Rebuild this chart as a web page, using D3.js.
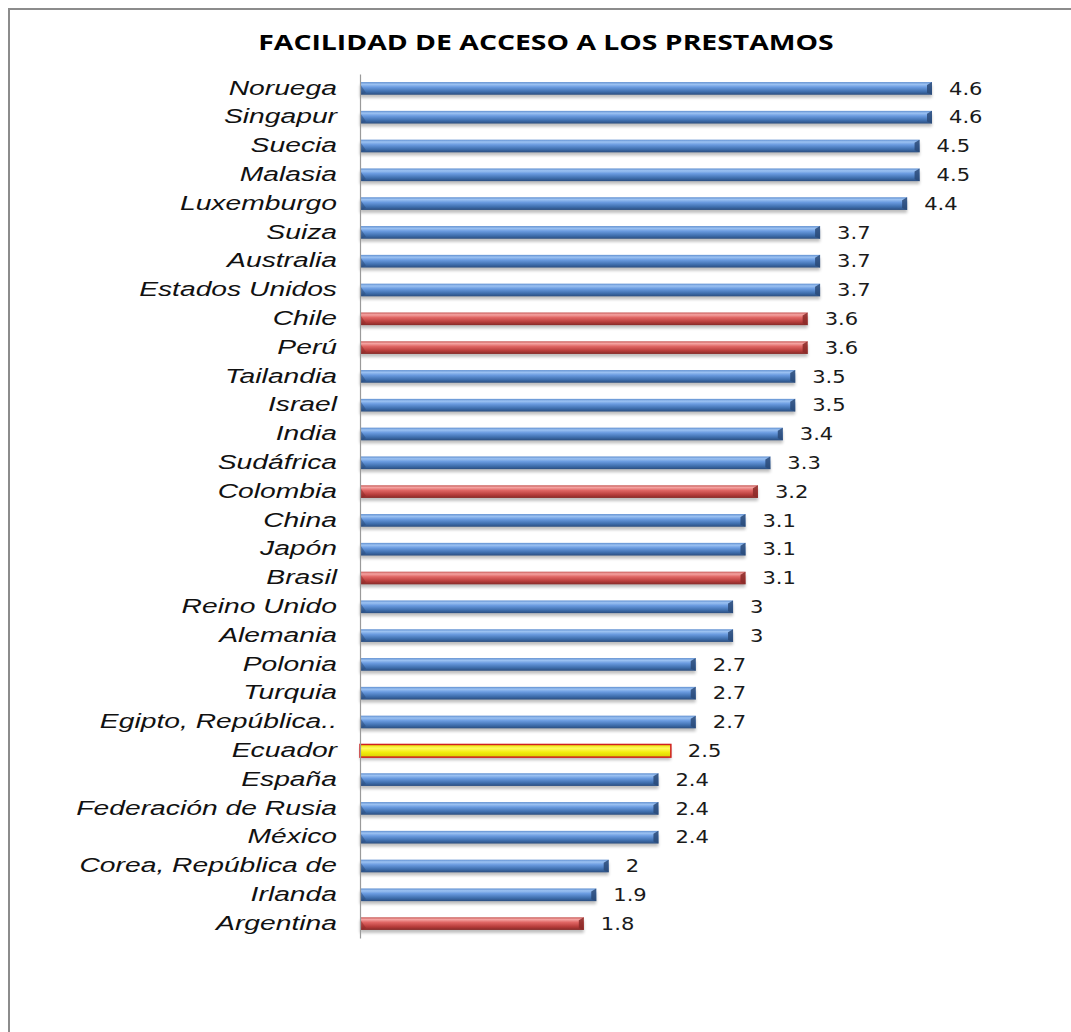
<!DOCTYPE html>
<html>
<head>
<meta charset="utf-8">
<script src="https://cdn.jsdelivr.net/npm/d3@7"></script>
<style>
  html, body { margin: 0; padding: 0; background: #fff; }
  svg { display: block; }
</style>
</head>
<body>
<script>
// Índice de facilidad de acceso a préstamos por país
const countries = [
  "Noruega", "Singapur", "Suecia", "Malasia", "Luxemburgo", "Suiza", "Australia",
  "Estados Unidos", "Chile", "Perú", "Tailandia", "Israel", "India", "Sudáfrica",
  "Colombia", "China", "Japón", "Brasil", "Reino Unido", "Alemania", "Polonia",
  "Turquia", "Egipto, República..", "Ecuador", "España", "Federación de Rusia",
  "México", "Corea, República de", "Irlanda", "Argentina"
];
const values = [
  4.6, 4.6, 4.5, 4.5, 4.4, 3.7, 3.7, 3.7, 3.6, 3.6, 3.5, 3.5, 3.4, 3.3,
  3.2, 3.1, 3.1, 3.1, 3.0, 3.0, 2.7, 2.7, 2.7, 2.5, 2.4, 2.4, 2.4, 2.0, 1.9, 1.8
];
// Grupo de color: latam = países latinoamericanos, local = Ecuador
const groups = [
  "other", "other", "other", "other", "other", "other", "other", "other",
  "latam", "latam", "other", "other", "other", "other", "latam", "other",
  "other", "latam", "other", "other", "other", "other", "other", "local",
  "other", "other", "other", "other", "other", "latam"
];
const title = "FACILIDAD DE ACCESO A LOS PRESTAMOS";

const W = 1071, H = 1032;
const svg = d3.select("body").append("svg").attr("width", W).attr("height", H);

const defs = svg.append("defs");
function grad(id, stops) {
  const g = defs.append("linearGradient").attr("id", id)
    .attr("x1", 0).attr("y1", 0).attr("x2", 0).attr("y2", 1);
  stops.forEach(([o, c]) => g.append("stop").attr("offset", o).attr("stop-color", c));
}
grad("g-other", [[0, "#5f8fd0"], [0.18, "#9cc2f2"], [0.4, "#6a9be0"], [0.75, "#3f6fae"], [1, "#2b4e80"]]);
grad("g-latam", [[0, "#c85a58"], [0.18, "#f4a3a1"], [0.4, "#e06664"], [0.75, "#b63c3a"], [1, "#862a28"]]);
grad("g-local", [[0, "#e8e000"], [0.3, "#fffb60"], [0.6, "#f4ee10"], [1, "#d8d000"]]);
const shadow = defs.append("filter").attr("id", "shadow")
  .attr("x", "-5%").attr("y", "-50%").attr("width", "110%").attr("height", "250%");
shadow.append("feGaussianBlur").attr("stdDeviation", 1.6);

const ends = { other: "#2a4a78", latam: "#8a2a28", local: "#c00000" };

// Marco del gráfico
svg.append("rect").attr("x", 9).attr("y", 9).attr("width", W + 20).attr("height", H + 20)
  .attr("fill", "none").attr("stroke", "#8c8c8c").attr("stroke-width", 2);

// Título (tipografía ensanchada horizontalmente)
const titleSX = 1.35;
svg.append("text")
  .attr("transform", `translate(546,50) scale(${titleSX},1)`)
  .attr("text-anchor", "middle")
  .attr("font-family", "Open Sans, Liberation Sans, sans-serif").attr("font-weight", "bold")
  .attr("font-size", 21).attr("fill", "#000").text(title);

const x = d3.scaleLinear().domain([0, 4.6]).range([360, 932]);
const y = d3.scaleBand().domain(countries).range([74, 938]).paddingInner(0.56).paddingOuter(0.28);
const bh = y.bandwidth();

const data = countries.map((c, i) => ({ c, v: values[i], g: groups[i] }));

const bars = svg.append("g").selectAll("g").data(data).join("g");
// Sombra
bars.append("rect")
  .attr("x", x(0)).attr("y", d => y(d.c) + 3)
  .attr("width", d => x(d.v) - x(0)).attr("height", bh)
  .attr("fill", "#000").attr("opacity", 0.25).attr("filter", "url(#shadow)");
// Barra
bars.append("rect")
  .attr("x", x(0)).attr("y", d => y(d.c))
  .attr("width", d => x(d.v) - x(0)).attr("height", bh)
  .attr("fill", d => `url(#g-${d.g})`)
  .attr("stroke", d => d.g === "local" ? "#d02020" : "none")
  .attr("stroke-width", 1.5);
// Extremo biselado
bars.filter(d => d.g !== "local").append("path")
  .attr("d", d => {
    const x1 = x(d.v), y0 = y(d.c);
    return `M${x1 - 5},${y0 + 3}L${x1},${y0}L${x1},${y0 + bh}L${x1 - 5},${y0 + bh - 2}Z`;
  })
  .attr("fill", d => ends[d.g]).attr("opacity", 0.85);
// Biselado izquierdo
bars.filter(d => d.g !== "local").append("path")
  .attr("d", d => {
    const x0 = x(0), y0 = y(d.c);
    return `M${x0},${y0 + 2}L${x0 + 6},${y0 + bh - 2}L${x0},${y0 + bh}Z`;
  })
  .attr("fill", d => ends[d.g]).attr("opacity", 0.5);

// Etiquetas de valor
const valSX = 1.24;
bars.append("text")
  .attr("transform", d => `translate(${x(d.v) + 17},${y(d.c) + bh / 2}) scale(${valSX},1)`)
  .attr("dy", "0.36em")
  .attr("font-family", "DejaVu Sans, Verdana, sans-serif").attr("font-size", 17)
  .attr("fill", "#1a1a1a")
  .text(d => d3.format("~g")(d.v));

// Eje de categorías
const labSX = 1.45, labPad = 23;
const axis = svg.append("g").attr("transform", `translate(${x(0)},0)`)
  .call(d3.axisLeft(y).tickSize(0).tickPadding(labPad));
axis.select(".domain").attr("stroke", "#9a9a9a").attr("stroke-width", 1.2);
axis.selectAll(".tick text")
  .attr("x", -labPad / labSX)
  .attr("transform", `scale(${labSX},1)`)
  .attr("font-family", "Liberation Sans, Arial, sans-serif")
  .attr("font-style", "italic").attr("font-size", 19.5).attr("fill", "#111");
</script>
</body>
</html>
